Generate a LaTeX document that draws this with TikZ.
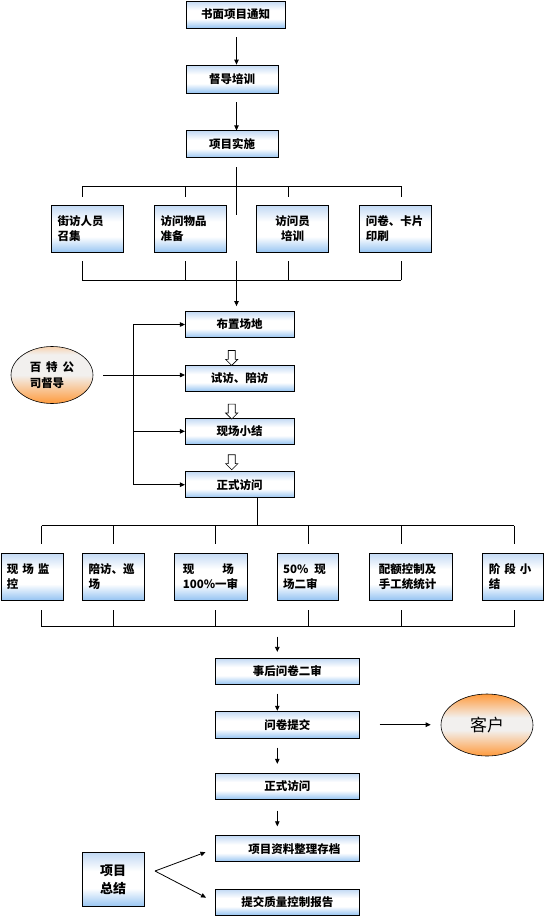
\documentclass[tikz,border=0pt]{standalone}
\usepackage{fontspec}
\newfontfamily\cjk{Noto Sans CJK SC}
\usepackage{tikz}
\usetikzlibrary{arrows.meta,shapes.geometric,shapes.arrows}
\definecolor{boxtop}{HTML}{C2D9F4}
\definecolor{boxbot}{HTML}{96C4F2}
\definecolor{ovalorange}{HTML}{FF9A3C}
\definecolor{ovallight}{HTML}{F2F0EE}
\pgfdeclareverticalshading{boxfade}{100bp}{color(0bp)=(boxbot); color(25bp)=(boxbot); color(42bp)=(white); color(58bp)=(white); color(75bp)=(boxtop); color(100bp)=(boxtop)}
\pgfdeclareverticalshading{supfade}{100bp}{color(0bp)=(ovalorange); color(25bp)=(ovalorange); color(50bp)=(ovallight); color(68bp)=(ovallight); color(75bp)=(ovalorange!35!ovallight); color(100bp)=(ovalorange!35!ovallight)}
\pgfdeclareverticalshading{clientfade}{100bp}{color(0bp)=(ovalorange); color(25bp)=(ovalorange); color(46bp)=(ovallight); color(56bp)=(ovallight); color(75bp)=(ovalorange); color(100bp)=(ovalorange)}

\begin{document}
\begin{tikzpicture}[x=1pt,y=-1pt,
  box/.style={draw,line width=0.8pt,shade,shading=boxfade,inner sep=0pt,
              minimum height=26pt,font=\cjk\bfseries\fontsize{11.5}{15}\selectfont},
  sidebox/.style={box,align=left,minimum height=47pt},
  oval/.style={ellipse,draw,line width=0.6pt,inner sep=0pt},
  arr/.style={-{Triangle[length=5pt,width=4.5pt]},line width=0.8pt},
  link/.style={line width=0.8pt},
  hollow/.style={single arrow,draw,fill=white,rotate=-90,line width=0.6pt,
                 minimum height=15pt,inner xsep=0pt,inner ysep=3.2pt,single arrow head extend=2.6pt}
]
  \useasboundingbox (0,0) rectangle (544,916);

  % top chain
  \node[box,minimum width=99pt,minimum height=27pt] (notice) at (235.5,14.5) {书面项目通知};
  \node[box,minimum width=92pt,minimum height=28pt] (train) at (232,79) {督导培训};
  \node[box,minimum width=92pt,minimum height=27pt] (impl) at (232,144.3) {项目实施};
  \coordinate (spine) at (236.5,0);
  \draw[arr,shorten <=9pt] (notice.south -| spine) -- (train.north -| spine);
  \draw[arr,shorten <=9pt] (train.south -| spine) -- (impl.north -| spine);

  % preparation
  \node[sidebox,minimum width=72pt,text width=60pt] (recruit) at (87.5,229) {街访人员\\召集};
  \node[sidebox,minimum width=72pt,text width=60pt] (goods) at (190.6,229) {访问物品\\准备};
  \node[sidebox,minimum width=72pt,text width=60pt,align=center] (staff) at (292.7,229) {访问员\\培训};
  \node[sidebox,minimum width=72pt,text width=60pt] (printing) at (395.8,229) {问卷、卡片\\印刷};
  \draw[link,shorten <=9pt] (impl.south -| spine) -- (spine |- 0,215);
  \draw[link] (82,186) -- (401,186) (82,280) -- (401,280);
  \foreach \x in {82,185,288,401}
    \draw[link] (\x,186) -- (\x,197) (\x,261) -- (\x,280);

  % on site
  \node[box,minimum width=108.7pt] (site) at (239.7,324.5) {布置场地};
  \node[box,minimum width=108.7pt] (trial) at (239.7,378.3) {试访、陪访};
  \node[box,minimum width=108.7pt] (brief) at (239.7,431.3) {现场小结};
  \node[box,minimum width=108.7pt] (formal) at (239.7,484.7) {正式访问};
  \draw[arr,shorten >=5pt] (spine |- 0,261) -- (site.north -| spine);
  \node[hollow] (h1) at (231.7,356.2) {};
  \node[hollow] (h2) at (231.7,409.8) {};
  \node[hollow] (h3) at (231.7,460.5) {};

  \node[oval,shade,shading=supfade,minimum width=82pt,minimum height=57pt,align=left,
        font=\cjk\bfseries\fontsize{11.5}{16}\selectfont] (sup) at (52,375)
        {百\hspace{5pt}特\hspace{5pt}公\\司督导};
  \coordinate (leftbus) at (133.3,400);
  \draw[arr,shorten <=10pt] (sup.east) -- (sup.east -| trial.west);
  \draw[link] (leftbus |- site.west) -- (leftbus |- formal.west);
  \foreach \n in {site,brief,formal}
    \draw[arr] (leftbus |- \n.west) -- (\n.west);

  % quality control
  \node[sidebox,minimum width=62pt,text width=50pt] (watch) at (31.9,576.5) {现\hspace{4pt}场\hspace{4pt}监\\控};
  \node[sidebox,minimum width=62.5pt,text width=50pt] (patrol) at (113.5,576.5) {陪访、巡\\场};
  \node[sidebox,minimum width=72.2pt,text width=56pt] (check1) at (210.8,576.5) {\makebox[51pt][s]{现\hfil 场}\\100\%一审};
  \node[sidebox,minimum width=61.5pt,text width=50pt] (check2) at (308.1,576.5) {50\%\hspace{6pt}现\\场二审};
  \node[sidebox,minimum width=82.2pt,text width=64pt] (quota) at (410.9,576.5) {配额控制及\\手工统统计};
  \node[sidebox,minimum width=61pt,text width=48pt] (stage) at (512.8,576.5) {阶\hspace{4pt}段\hspace{4pt}小\\结};
  \draw[link] (formal.south -| 257,0) -- (257,525.6);
  \draw[link] (41.7,525.6) -- (514,525.6) (41.7,626.7) -- (514,626.7);
  \foreach \x in {41.7,113.5,215.6,308.7,401,514}
    \draw[link] (\x,525.6) -- (\x,543.7) (\x,610.3) -- (\x,626.7);

  % wrap-up
  \node[box,minimum width=144pt] (post) at (287.3,671.3) {事后问卷二审};
  \node[box,minimum width=144pt,minimum height=27pt] (submit) at (287.3,724.7) {问卷提交};
  \node[box,minimum width=144pt] (formal2) at (287.3,786.2) {正式访问};
  \node[box,minimum width=144pt] (archive) at (287.3,848.7) {\hspace{14pt}项目资料整理存档};
  \node[box,minimum width=144pt] (report) at (287.3,902.2) {提交质量控制报告};
  \node[oval,shade,shading=clientfade,minimum width=92pt,minimum height=62pt,
        font=\cjk\fontsize{17}{20}\selectfont] (client) at (487,725) {客户};
  \node[box,minimum width=61.7pt,minimum height=54pt,align=center,
        font=\cjk\bfseries\fontsize{13}{18}\selectfont] (wrap) at (113.2,879.7) {项目\\总结};
  \coordinate (lowspine) at (277.3,0);
  \coordinate (fork) at (155,871);
  \draw[arr,shorten <=10pt,shorten >=6pt] (lowspine |- 0,626.7) -- (post.north -| lowspine);
  \draw[arr,shorten <=9pt] (post.south -| lowspine) -- (submit.north -| lowspine);
  \draw[arr,shorten <=9pt,shorten >=9pt] (submit.south -| lowspine) -- (formal2.north -| lowspine);
  \draw[arr,shorten <=11pt,shorten >=9pt] (formal2.south -| lowspine) -- (archive.north -| lowspine);
  \draw[arr,shorten <=20pt,shorten >=10pt] (submit.east) -- (submit.east -| client.west);
  \draw[arr,shorten >=10pt] (fork) -- (archive.west);
  \draw[arr,shorten >=10pt] (fork) -- (report.west);
\end{tikzpicture}
\end{document}
